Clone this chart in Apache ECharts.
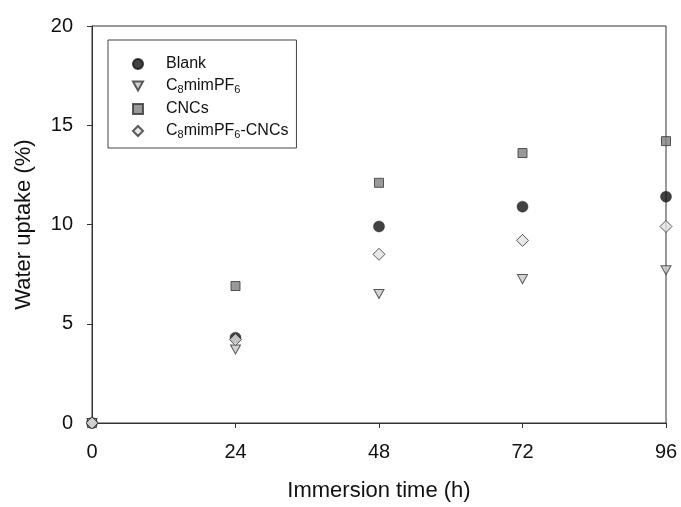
<!DOCTYPE html>
<html>
<head>
<meta charset="utf-8">
<script src="https://cdn.jsdelivr.net/npm/echarts@6/dist/echarts.min.js"></script>
<style>
html,body{margin:0;padding:0;background:#fff;}
#chart{width:681px;height:507px;}
</style>
</head>
<body>
<div id="chart"></div>
<script>
var times = [0, 24, 48, 72, 96];
var blank = [0, 4.3, 9.9, 10.9, 11.4];
var il = [0, 3.7, 6.5, 7.25, 7.7];
var cncs = [0, 6.9, 12.1, 13.6, 14.2];
var ilCncs = [0, 4.2, 8.5, 9.2, 9.9];
var xTicks = [0, 24, 48, 72, 96];
var yTicks = [0, 5, 10, 15, 20];

function pts(vals) { return times.map(function (t, i) { return [t, vals[i]]; }); }

var font = 'Liberation Sans, Arial, sans-serif';
var chart = echarts.init(document.getElementById('chart'), null, {renderer: 'canvas'});

var legendNames = {
  'Blank': '{p| }{n|Blank}',
  'C8mimPF6': '{p| }{n|C}{s|8}{n|mimPF}{s|6}',
  'CNCs': '{p| }{n|CNCs}',
  'C8mimPF6-CNCs': '{p| }{n|C}{s|8}{n|mimPF}{s|6}{n|-CNCs}'
};

chart.setOption({
  backgroundColor: '#ffffff',
  animation: false,
  grid: {left: 92, right: 15, top: 26, bottom: 78.5, show: true, borderColor: '#333', borderWidth: 1, backgroundColor: 'transparent'},
  legend: {
    orient: 'vertical',
    left: 108, top: 40,
    padding: [16, 8, 8, 24],
    itemWidth: 10, itemHeight: 10, itemGap: 6,
    symbolKeepAspect: true,
    borderColor: '#444', borderWidth: 1,
    data: ['Blank', 'C8mimPF6', 'CNCs', 'C8mimPF6-CNCs'],
    formatter: function (name) { return legendNames[name]; },
    textStyle: {
      fontFamily: font, color: '#111',
      rich: {
        p: {width: 18, fontSize: 16, lineHeight: 18},
        n: {fontSize: 16, lineHeight: 18, fontFamily: font, color: '#111'},
        s: {fontSize: 11, lineHeight: 10, verticalAlign: 'bottom', fontFamily: font, color: '#111'}
      }
    }
  },
  xAxis: {
    type: 'value', min: 0, max: 96, interval: 24,
    name: 'Immersion time (h)', nameLocation: 'middle', nameGap: 57,
    nameTextStyle: {fontFamily: font, fontSize: 22, color: '#111'},
    axisLine: {show: true, lineStyle: {color: '#333', width: 1}},
    axisTick: {show: true, inside: false, length: 5, lineStyle: {color: '#333'}},
    axisLabel: {fontFamily: font, fontSize: 20, color: '#111', margin: 19,
      formatter: function (v) { return xTicks.indexOf(v) >= 0 ? String(v) : ''; }},
    splitLine: {show: false}
  },
  yAxis: {
    type: 'value', min: 0, max: 20, interval: 5,
    name: 'Water uptake (%)', nameLocation: 'middle', nameGap: 57,
    nameTextStyle: {fontFamily: font, fontSize: 22, color: '#111'},
    axisLine: {show: true, lineStyle: {color: '#333', width: 1}},
    axisTick: {show: true, inside: false, length: 5, lineStyle: {color: '#333'}},
    axisLabel: {fontFamily: font, fontSize: 20, color: '#111', margin: 19,
      formatter: function (v) { return yTicks.indexOf(v) >= 0 ? String(v) : ''; }},
    splitLine: {show: false}
  },
  series: [
    {name: 'Blank', type: 'scatter', clip: false, data: pts(blank), symbol: 'circle', symbolSize: 11,
      itemStyle: {color: '#111111', borderColor: '#111111', borderWidth: 0.5}},
    {name: 'C8mimPF6', type: 'scatter', clip: false, data: pts(il), symbol: 'path://M0,0 L10,0 L5,9 Z', symbolSize: [10, 9],
      itemStyle: {color: '#c8c8c8', borderColor: '#333333', borderWidth: 1}},
    {name: 'CNCs', type: 'scatter', clip: false, data: pts(cncs), symbol: 'rect', symbolSize: 9,
      itemStyle: {color: '#808080', borderColor: '#333333', borderWidth: 1}},
    {name: 'C8mimPF6-CNCs', type: 'scatter', clip: false, data: pts(ilCncs), symbol: 'diamond', symbolSize: 12,
      itemStyle: {color: '#e2e2e2', borderColor: '#333333', borderWidth: 1}}
  ]
});
</script>
</body>
</html>
